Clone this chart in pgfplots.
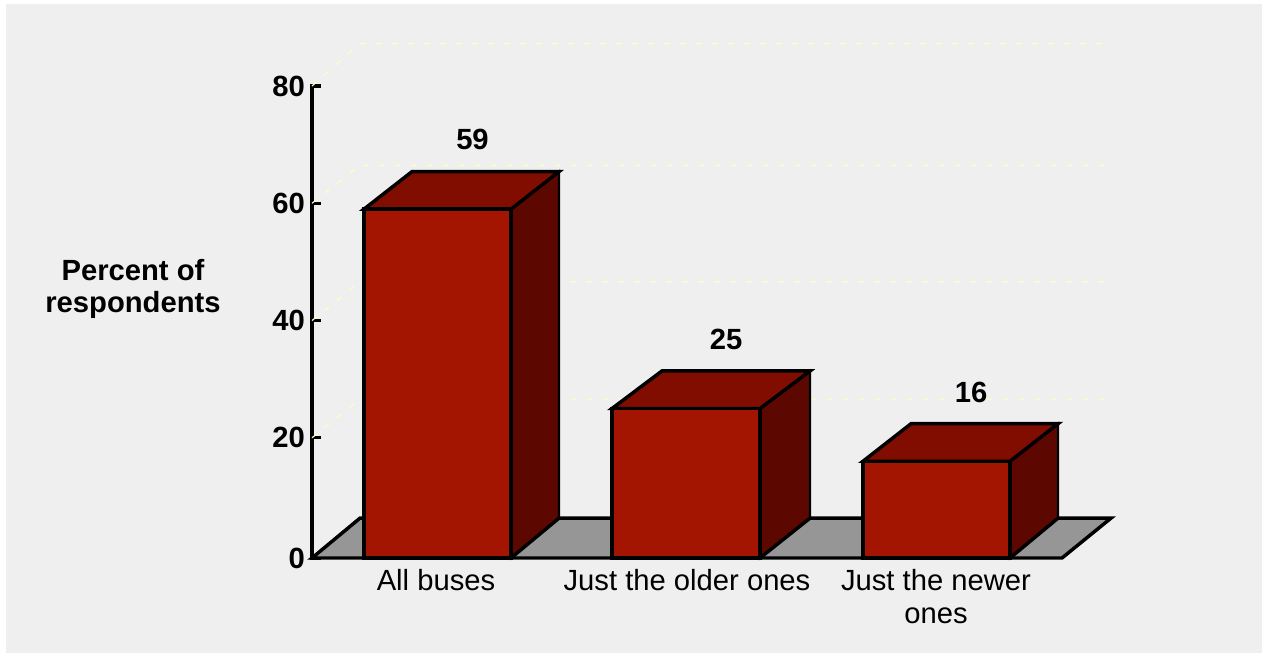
\documentclass[border=0pt]{standalone}
\usepackage{pgfplots}
\pgfplotsset{compat=1.18}
\usepackage{fontspec}
\setmainfont{Liberation Sans}
\definecolor{panel}{HTML}{EFEFEF}
\definecolor{front}{HTML}{A31500}
\definecolor{topface}{HTML}{800D00}
\definecolor{sideface}{HTML}{5C0700}
\definecolor{floorgray}{HTML}{969696}
\definecolor{gridyellow}{HTML}{FDFDC8}
\newcommand{\boldlabel}{\fontsize{21.9}{24}\selectfont\bfseries}
\pgfplotsset{
  guide/.style={gridyellow, line width=0.9pt, dash pattern=on 4.5pt off 7.5pt},
  edge/.style={draw=black, line width=2.6pt},
  thinedge/.style={draw=black, line width=1.7pt},
}
\begin{document}
\begin{tikzpicture}[x=0.75pt,y=0.75pt]
% page and panel, measured from the bottom-left corner of a 1262 x 653 canvas
\fill[white] (0,0) rectangle (1262,653);
\fill[panel] (6,0) rectangle (1262,649);
\begin{axis}[
  at={(234pt,71.25pt)}, anchor=south west,
  scale only axis, width=598.5pt, height=354pt,
  xmin=312, xmax=1110, ymin=-0.5, ymax=80,
  clip=false,
  axis y line*=left, axis x line*=bottom,
  x axis line style={draw=none},
  y axis line style={line width=2.4pt, line cap=rect},
  xtick={436,687,936},
  xticklabels={All buses,Just the older ones,Just the newer\\ones},
  ytick={-0.5,20,40,60,80},
  yticklabels={0,20,40,60,80},
  major x tick style={draw=none},
  major y tick style={black, line width=2.4pt},
  tick align=inside, major tick length=6.5pt,
  every x tick label/.style={font=\fontsize{21.9}{25}\selectfont, align=center, anchor=north, yshift=-4.75pt},
  yticklabel style={font=\boldlabel, xshift=-1.75pt},
  every axis plot/.append style={line join=miter},
]
% dashed guides on the back walls
\addplot[guide] coordinates {(312,80)(360,87.2)(1105,87.2)};
\addplot[guide] coordinates {(312,60)(360,66.5)(1105,66.5)};
\addplot[guide] coordinates {(312,40)(360,46.6)(1105,46.6)};
\addplot[guide] coordinates {(312,20)(360,26.6)(1105,26.6)};
% floor
\addplot[fill=floorgray, edge] coordinates {(312,-0.5)(1062,-0.5)(1111,6.3)(360,6.3)} -- cycle;
% bar 1: 59
\addplot[fill=sideface, thinedge] coordinates {(511,-0.5)(559,6.3)(559,65.4)(511,59)} -- cycle;
\addplot[edge] coordinates {(511,-0.5)(559,6.3)};
\addplot[fill=topface, edge] coordinates {(364,59)(511,59)(559,65.4)(412,65.4)} -- cycle;
\addplot[fill=front, edge] coordinates {(364,-0.5)(511,-0.5)(511,59)(364,59)} -- cycle;
% bar 2: 25
\addplot[fill=sideface, thinedge] coordinates {(760,-0.5)(810,6.3)(810,31.4)(760,25)} -- cycle;
\addplot[edge] coordinates {(760,-0.5)(810,6.3)};
\addplot[fill=topface, edge] coordinates {(612,25)(760,25)(810,31.4)(662,31.4)} -- cycle;
\addplot[fill=front, edge] coordinates {(612,-0.5)(760,-0.5)(760,25)(612,25)} -- cycle;
% bar 3: 16
\addplot[fill=sideface, thinedge] coordinates {(1010,-0.5)(1058,6.3)(1058,22.4)(1010,16)} -- cycle;
\addplot[edge] coordinates {(1010,-0.5)(1058,6.3)};
\addplot[fill=topface, edge] coordinates {(863,16)(1010,16)(1058,22.4)(911,22.4)} -- cycle;
\addplot[fill=front, edge] coordinates {(863,-0.5)(1010,-0.5)(1010,16)(863,16)} -- cycle;
% value labels
\node[font=\boldlabel] at (axis cs:472.5,70.95) {59};
\node[font=\boldlabel] at (axis cs:726,36.8) {25};
\node[font=\boldlabel] at (axis cs:971,27.8) {16};
% y axis title
\node[font=\boldlabel, align=center] at (axis cs:133,45.4) {Percent of\\respondents};
\end{axis}
\end{tikzpicture}
\end{document}
